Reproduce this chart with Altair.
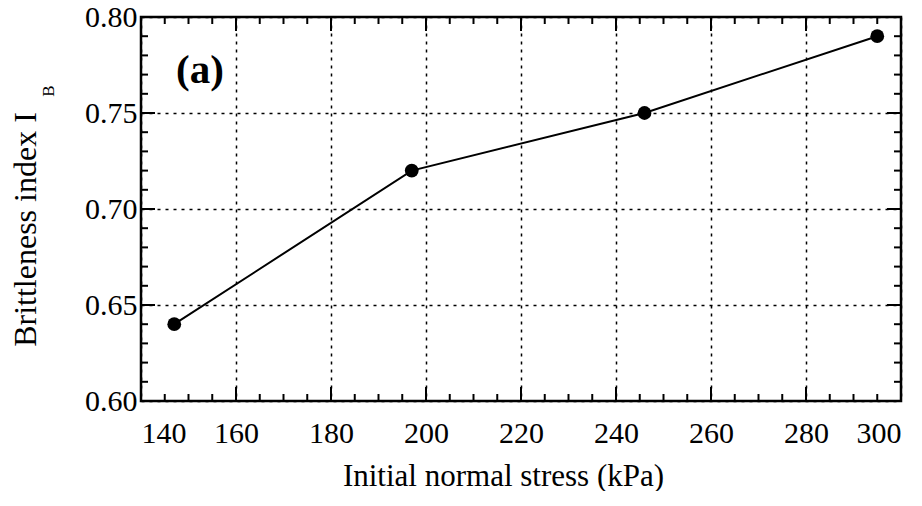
import altair as alt
import pandas as pd

# data
stress = [147, 197, 246, 295]
brittleness = [0.64, 0.72, 0.75, 0.79]

x_major = [140, 160, 180, 200, 220, 240, 260, 280, 300]
x_minor = [145, 150, 155, 165, 170, 175, 185, 190, 195, 205, 210, 215,
           225, 230, 235, 245, 250, 255, 265, 270, 275, 285, 290, 295]
y_major = [0.60, 0.65, 0.70, 0.75, 0.80]
y_minor = [0.61, 0.62, 0.63, 0.64, 0.66, 0.67, 0.68, 0.69, 0.71, 0.72,
           0.73, 0.74, 0.76, 0.77, 0.78, 0.79]

panel_label = ["(a)"]
panel_x = [152.4]
panel_y = [0.772]

W, H = 760, 384
X0, X1 = 140, 300
Y0, Y1 = 0.60, 0.80
FONT = "Liberation Serif"

df = pd.DataFrame({"stress": stress, "ib": brittleness})

xs = alt.Scale(domain=[X0, X1], nice=False, zero=False)
ys = alt.Scale(domain=[Y0, Y1], nice=False, zero=False)

# inward tick segments (lengths converted from pixels to data units through the plot size)
px_x = (X1 - X0) / W
px_y = (Y1 - Y0) / H
rows = []
seg = 0
for vals, L in ((x_major, 14), (x_minor, 7)):
    for v in vals:
        for y_a, y_b in ((Y0, Y0 + L * px_y), (Y1, Y1 - L * px_y)):
            rows.append({"tx": v, "ty": y_a, "seg": seg, "o": 0})
            rows.append({"tx": v, "ty": y_b, "seg": seg, "o": 1})
            seg += 1
for vals, L in ((y_major, 14), (y_minor, 7)):
    for v in vals:
        for x_a, x_b in ((X0, X0 + L * px_x), (X1, X1 - L * px_x)):
            rows.append({"tx": x_a, "ty": v, "seg": seg, "o": 0})
            rows.append({"tx": x_b, "ty": v, "seg": seg, "o": 1})
            seg += 1
ticks_df = pd.DataFrame(rows)

xax = alt.Axis(values=x_major, format="d", grid=True, gridColor="black",
               gridDash=[3, 5], gridWidth=1.5, gridOpacity=1, ticks=False, domain=False,
               labelFont=FONT, labelFontSize=30, labelColor="black", labelPadding=17,
               titleFont=FONT, titleFontSize=31, titleFontWeight="normal",
               titleColor="black", titleX=362, titleY=84, titleAlign="center",
               titleBaseline="alphabetic")
yax = alt.Axis(values=y_major, format=".2f", grid=True, gridColor="black",
               gridDash=[3, 5], gridWidth=1.5, gridOpacity=1, ticks=False, domain=False,
               labelFont=FONT, labelFontSize=30, labelColor="black", labelPadding=4,
               titleFont=FONT, titleFontSize=32, titleFontWeight="normal",
               titleColor="black", titleX=-106, titleY=212, titleAlign="center",
               titleBaseline="alphabetic", titleAngle=270)

line = alt.Chart(df).mark_line(color="black", strokeWidth=2).encode(
    x=alt.X("stress:Q", scale=xs, axis=xax, title="Initial normal stress (kPa)"),
    y=alt.Y("ib:Q", scale=ys, axis=yax, title="Brittleness index I"),
)
pts = alt.Chart(df).mark_circle(color="black", opacity=1, size=190).encode(
    x="stress:Q", y="ib:Q")

ticks = alt.Chart(ticks_df).mark_line(color="black", strokeWidth=2).encode(
    x="tx:Q", y="ty:Q", detail="seg:N", order="o:Q")

frame = alt.Chart(pd.DataFrame({"f": [1]})).mark_rect(
    fillOpacity=0, stroke="black", strokeWidth=2.5).encode(
    x=alt.value(0), x2=alt.value(W), y=alt.value(0), y2=alt.value(H))

label = alt.Chart(pd.DataFrame({"t": panel_label, "px": panel_x, "py": panel_y})).mark_text(
    font=FONT, fontSize=41, fontWeight="bold", color="black").encode(
    x="px:Q", y="py:Q", text="t:N")

sub = alt.Chart(pd.DataFrame({"t": ["B"]})).mark_text(
    font=FONT, fontSize=17, color="black", angle=270).encode(
    x=alt.value(-92), y=alt.value(74), text="t:N")

chart = alt.layer(line, ticks, frame, pts, label, sub).properties(
    width=W, height=H, autosize="none",
    padding={"left": 133, "top": 9, "right": 10, "bottom": 90},
)

chart.save("out.html", embed_options={"renderer": "svg", "actions": False})
